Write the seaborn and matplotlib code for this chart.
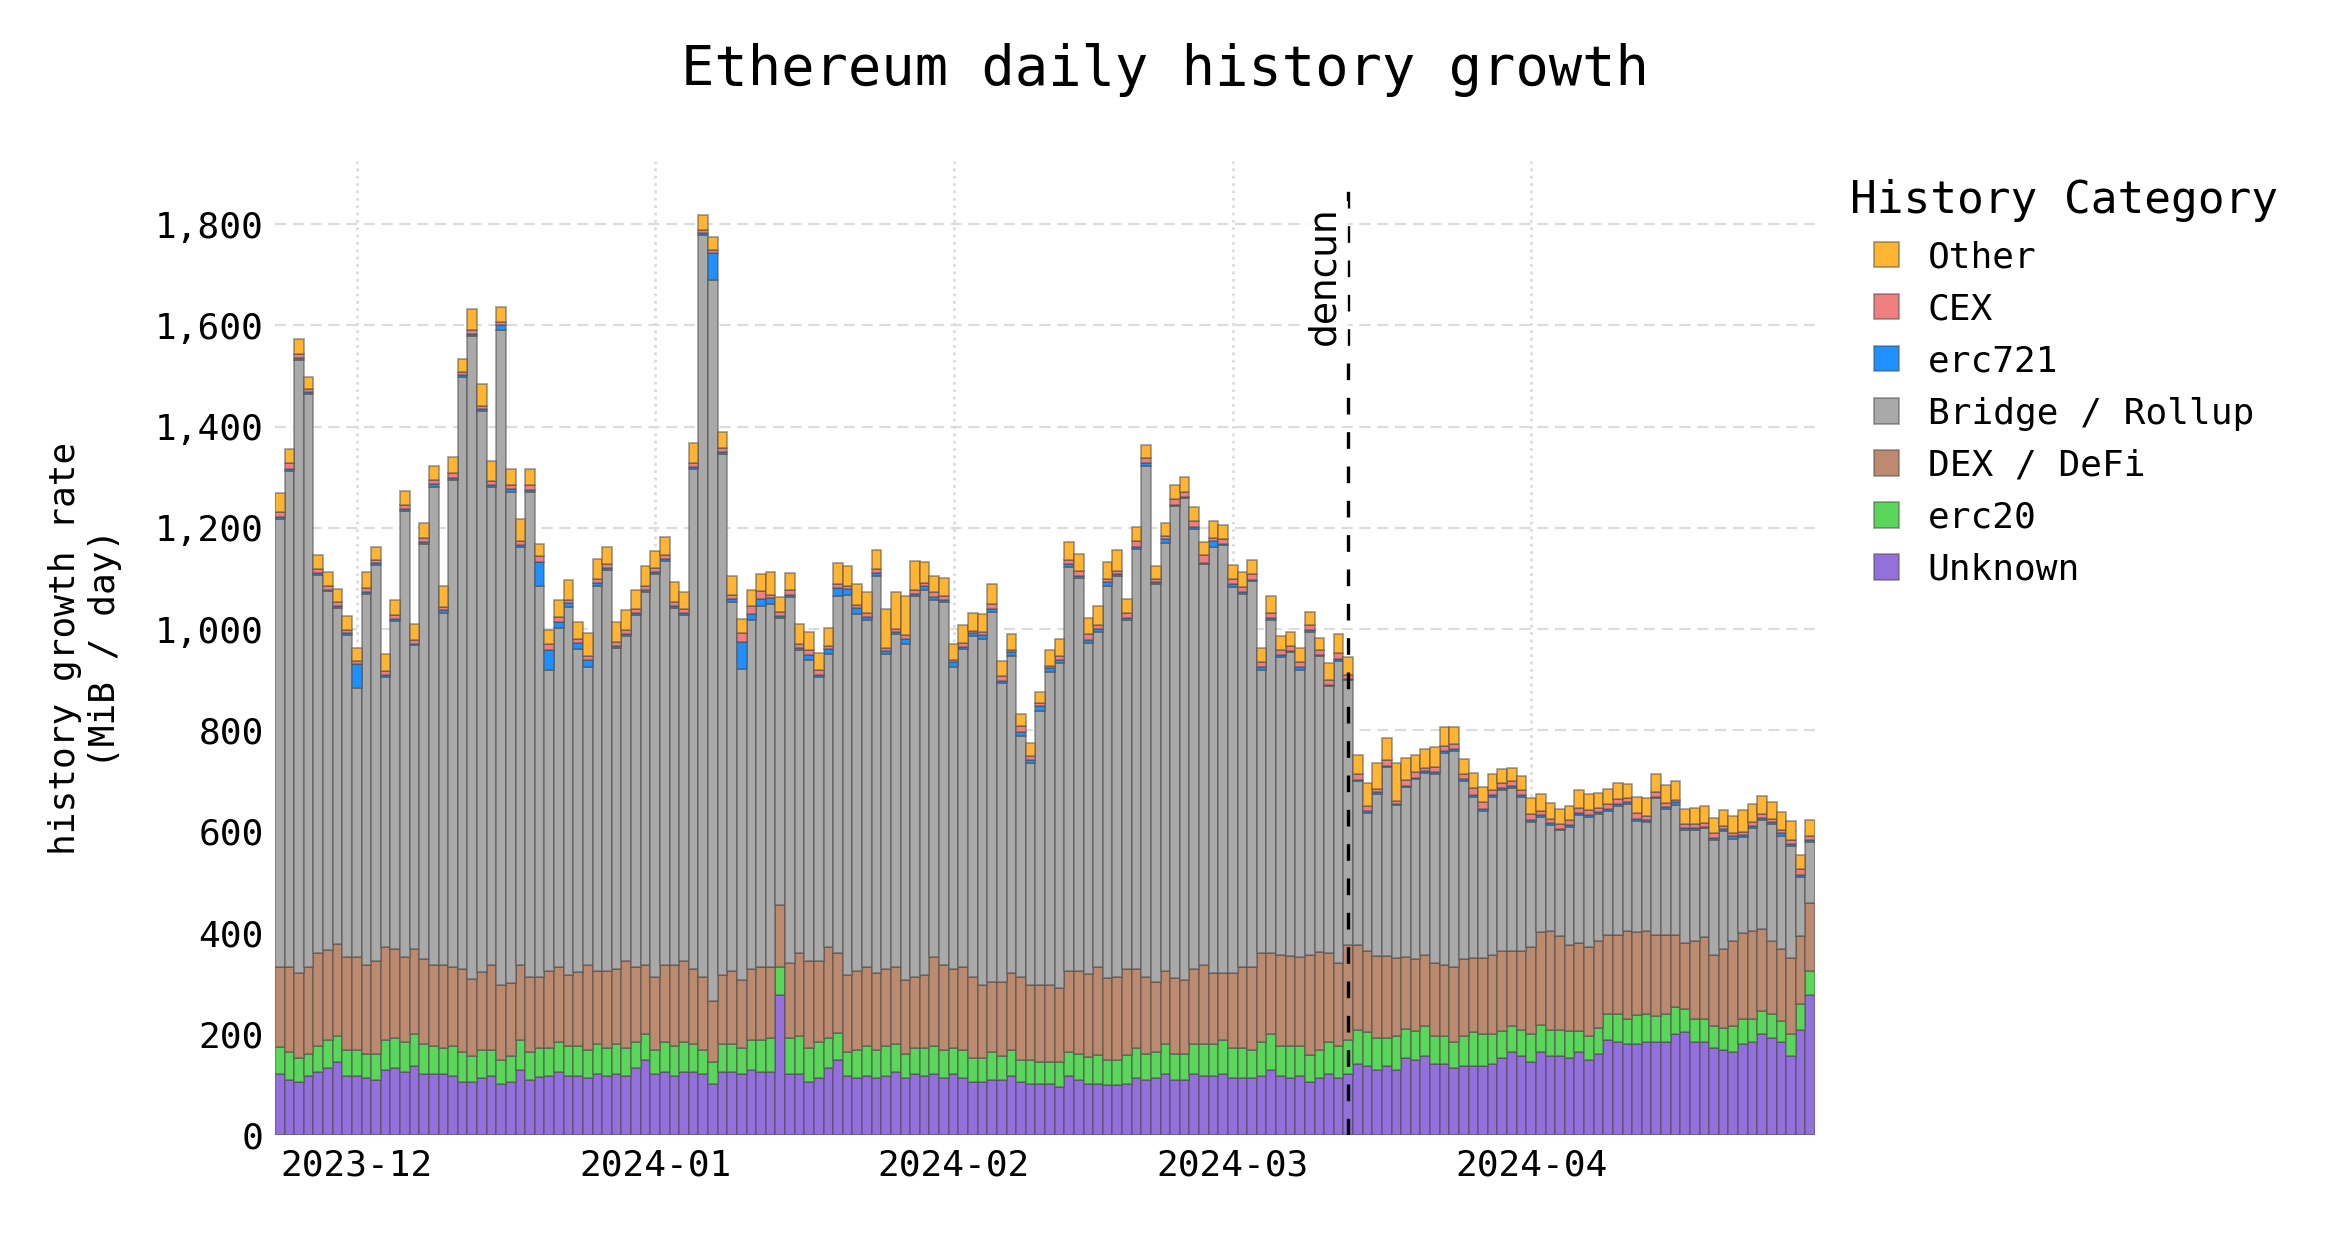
import numpy as np
import pandas as pd
import seaborn as sns
import matplotlib.pyplot as plt
import matplotlib.dates as mdates
import matplotlib.ticker as mticker

# one bar per day, values in MiB / day
dates = pd.date_range('2023-11-23', '2024-04-30', freq='D')

unknown = [121, 109, 105, 117, 125, 132, 145, 117, 117, 113,
           109, 129, 132, 125, 136, 121, 121, 121, 117, 105,
           105, 113, 117, 101, 105, 129, 109, 115, 116, 125,
           116, 116, 113, 121, 116, 121, 116, 132, 148, 121,
           125, 116, 125, 125, 121, 101, 125, 125, 121, 129,
           125, 125, 277, 121, 121, 105, 113, 132, 148, 116,
           113, 116, 113, 116, 125, 113, 121, 116, 121, 113,
           121, 113, 105, 105, 109, 109, 117, 105, 101, 101,
           101, 94, 117, 109, 101, 101, 98, 98, 101, 113,
           109, 113, 121, 109, 109, 121, 117, 117, 121, 113,
           113, 113, 117, 129, 117, 113, 117, 105, 113, 121,
           113, 121, 141, 136, 129, 136, 129, 152, 148, 156,
           141, 141, 132, 136, 136, 136, 141, 152, 164, 156,
           145, 164, 156, 156, 152, 164, 148, 160, 188, 183,
           179, 179, 183, 183, 183, 199, 203, 183, 183, 172,
           168, 164, 179, 183, 199, 192, 183, 156, 207, 277]

erc20 = [52, 56, 48, 43, 51, 56, 51, 51, 51, 48,
         52, 59, 59, 58, 63, 58, 54, 51, 58, 59,
         51, 56, 51, 47, 51, 59, 56, 57, 56, 58,
         59, 59, 56, 58, 56, 58, 56, 51, 51, 47,
         58, 59, 58, 54, 47, 43, 54, 54, 51, 59,
         63, 67, 56, 70, 74, 67, 70, 59, 54, 48,
         56, 59, 56, 59, 54, 47, 51, 56, 54, 56,
         51, 56, 47, 47, 56, 47, 51, 43, 47, 43,
         43, 51, 47, 51, 54, 58, 51, 51, 58, 59,
         51, 52, 58, 51, 51, 58, 62, 62, 67, 59,
         59, 56, 66, 70, 58, 63, 58, 54, 56, 62,
         63, 67, 66, 67, 63, 56, 67, 58, 58, 59,
         54, 54, 51, 59, 67, 63, 58, 54, 51, 51,
         54, 54, 51, 51, 54, 42, 47, 52, 51, 56,
         51, 59, 56, 52, 56, 54, 47, 47, 47, 43,
         43, 51, 51, 47, 47, 47, 43, 43, 52, 47]

dex_defi = [160, 168, 168, 172, 184, 177, 181, 184, 184, 176,
            183, 184, 177, 169, 169, 169, 161, 164, 157, 164,
            153, 153, 168, 148, 145, 148, 148, 141, 152, 150,
            141, 148, 168, 145, 152, 150, 172, 150, 137, 145,
            153, 161, 161, 150, 145, 121, 137, 145, 134, 141,
            145, 141, 121, 148, 164, 172, 161, 181, 157, 152,
            156, 157, 152, 153, 153, 146, 141, 145, 177, 168,
            157, 164, 161, 145, 137, 146, 152, 164, 148, 152,
            152, 145, 160, 164, 164, 173, 161, 164, 169, 157,
            153, 137, 145, 150, 146, 150, 157, 141, 132, 148,
            161, 164, 177, 161, 181, 177, 177, 197, 192, 177,
            164, 188, 169, 161, 161, 161, 153, 142, 142, 141,
            145, 141, 150, 153, 146, 150, 157, 157, 148, 157,
            173, 184, 197, 186, 169, 173, 177, 172, 157, 157,
            173, 164, 164, 161, 157, 142, 130, 153, 162, 141,
            157, 168, 169, 173, 161, 145, 142, 150, 134, 135]

bridge_rollup = [884, 980, 1211, 1133, 747, 710, 665, 636, 532, 732,
                 783, 533, 648, 882, 600, 820, 945, 696, 962, 1170,
                 1270, 1109, 945, 1295, 970, 827, 957, 772, 596, 669,
                 728, 638, 587, 762, 792, 634, 643, 694, 737, 796,
                 799, 705, 684, 987, 1466, 1425, 1030, 730, 615, 689,
                 712, 716, 568, 725, 599, 595, 562, 579, 707, 751,
                 705, 685, 783, 622, 658, 665, 752, 761, 705, 717,
                 596, 628, 673, 684, 731, 592, 627, 477, 440, 542,
                 620, 642, 799, 777, 654, 662, 775, 792, 690, 830,
                 1010, 787, 846, 934, 952, 868, 792, 842, 846, 764,
                 736, 761, 560, 658, 589, 602, 568, 639, 585, 527,
                 597, 523, 323, 273, 320, 374, 304, 335, 355, 360,
                 374, 419, 425, 352, 319, 292, 312, 318, 322, 304,
                 247, 226, 209, 210, 233, 254, 257, 250, 245, 254,
                 251, 219, 215, 270, 249, 258, 223, 219, 214, 228,
                 233, 203, 190, 203, 215, 230, 223, 223, 116, 121]

erc721 = [4, 4, 4, 3, 4, 3, 4, 4, 46, 4,
          3, 4, 3, 4, 3, 3, 5, 5, 5, 4,
          5, 3, 3, 10, 6, 4, 5, 47, 38, 11,
          7, 11, 15, 4, 4, 4, 4, 5, 4, 4,
          4, 4, 4, 4, 3, 54, 4, 5, 54, 11,
          14, 12, 4, 4, 5, 9, 4, 9, 16, 12,
          11, 7, 7, 6, 5, 10, 5, 7, 6, 3,
          9, 3, 6, 7, 6, 3, 7, 7, 6, 9,
          7, 7, 5, 3, 6, 7, 7, 4, 3, 3,
          6, 3, 7, 2, 3, 4, 3, 11, 2, 4,
          5, 3, 5, 3, 3, 2, 5, 3, 2, 2,
          3, 2, 3, 4, 4, 3, 2, 3, 3, 3,
          3, 3, 5, 4, 3, 3, 3, 4, 4, 3,
          4, 4, 3, 2, 4, 4, 4, 4, 4, 4,
          4, 4, 4, 3, 3, 5, 3, 4, 2, 3,
          4, 4, 4, 5, 5, 4, 5, 4, 4, 4]

cex = [11, 11, 8, 6, 7, 7, 7, 6, 7, 8,
       7, 9, 8, 7, 8, 9, 9, 7, 9, 6,
       6, 7, 9, 6, 8, 6, 9, 12, 12, 11,
       7, 8, 7, 9, 8, 8, 8, 8, 8, 8,
       8, 8, 8, 8, 7, 6, 7, 8, 17, 17,
       16, 7, 8, 10, 7, 11, 10, 6, 6, 6,
       7, 7, 7, 7, 6, 7, 7, 6, 10, 8,
       5, 8, 4, 6, 10, 11, 4, 12, 7, 6,
       4, 7, 9, 11, 12, 6, 6, 6, 11, 11,
       9, 7, 6, 10, 9, 12, 16, 7, 10, 11,
       10, 11, 10, 10, 11, 10, 10, 10, 11, 11,
       12, 9, 12, 10, 7, 11, 6, 11, 11, 7,
       11, 11, 9, 9, 15, 15, 11, 11, 11, 11,
       11, 9, 9, 10, 11, 9, 9, 9, 9, 10,
       8, 11, 9, 8, 9, 5, 8, 9, 9, 9,
       6, 6, 6, 7, 7, 7, 7, 7, 12, 7]

other = [37, 27, 30, 24, 29, 27, 27, 28, 25, 31,
         26, 33, 30, 27, 31, 29, 28, 41, 31, 26,
         42, 43, 39, 30, 32, 44, 32, 24, 28, 34,
         38, 34, 46, 40, 35, 39, 39, 38, 39, 34,
         35, 40, 34, 39, 30, 24, 32, 38, 27, 31,
         34, 44, 29, 33, 40, 36, 33, 37, 42, 39,
         41, 42, 38, 77, 72, 77, 58, 41, 31, 36,
         32, 35, 35, 36, 40, 28, 32, 24, 25, 23,
         32, 34, 34, 33, 30, 39, 34, 41, 28, 29,
         25, 26, 27, 29, 30, 29, 24, 33, 28, 28,
         28, 28, 27, 34, 28, 28, 28, 25, 24, 32,
         38, 34, 38, 44, 52, 43, 75, 45, 34, 37,
         39, 37, 34, 30, 30, 28, 31, 28, 25, 28,
         32, 33, 31, 29, 28, 36, 32, 28, 29, 31,
         28, 33, 35, 37, 34, 37, 30, 32, 34, 31,
         32, 35, 43, 36, 36, 34, 36, 37, 29, 32]

# legend order (top of stack first)
categories = ['Other', 'CEX', 'erc721', 'Bridge / Rollup', 'DEX / DeFi', 'erc20', 'Unknown']
colors = ['#FFB533', '#F08080', '#1E90FF', '#A9A9A9', '#BC8A6E', '#5AD75A', '#9370DB']

dencun_date = pd.Timestamp('2024-03-13')

# long format for seaborn
day = mdates.date2num(dates)
wide_df = pd.DataFrame({
    'day': day,
    'Other': other,
    'CEX': cex,
    'erc721': erc721,
    'Bridge / Rollup': bridge_rollup,
    'DEX / DeFi': dex_defi,
    'erc20': erc20,
    'Unknown': unknown,
})
long_df = wide_df.melt(id_vars='day', var_name='category', value_name='mib')

sns.set_style('whitegrid')
plt.rcParams['font.family'] = 'DejaVu Sans Mono'
plt.rcParams['text.color'] = 'black'
plt.rcParams['axes.labelcolor'] = 'black'

fig = plt.figure(figsize=(11.65, 6.22), dpi=200)
ax = fig.add_axes([0.118, 0.0876, 0.661, 0.783])

sns.histplot(data=long_df, x='day', weights='mib', hue='category',
             hue_order=categories, palette=dict(zip(categories, colors)),
             multiple='stack', discrete=True, shrink=1, alpha=1,
             edgecolor=(0.3, 0.3, 0.3, 0.55), linewidth=0.6, ax=ax)

# dencun upgrade marker
dencun_x = mdates.date2num(dencun_date)
ax.axvline(dencun_x, ymax=0.973, color='black', linestyle='--',
           linewidth=1.2, dashes=(5, 5.3))
ax.text(dencun_x - 0.6, 1835, 'dencun', rotation=90, ha='right', va='top',
        family='DejaVu Sans', fontsize=13.5,
        bbox=dict(facecolor='white', edgecolor='none', alpha=0.85, pad=2))

ax.set_xlim(day[0] - 0.5, day[-1] + 0.5)
ax.set_ylim(0, 1925)
ax.set_yticks(np.arange(0, 1801, 200))
ax.yaxis.set_major_formatter(mticker.StrMethodFormatter('{x:,.0f}'))
ax.xaxis.set_major_locator(mdates.MonthLocator())
ax.xaxis.set_major_formatter(mdates.DateFormatter('%Y-%m'))
ax.tick_params(length=0, labelsize=13, colors='black')
ax.tick_params(axis='y', pad=4)
ax.tick_params(axis='x', pad=5)

ax.grid(axis='y', linestyle=(0, (5, 3)), color='#dcdcdc', linewidth=0.8)
ax.grid(axis='x', linestyle=':', color='#dcdcdc', linewidth=1.0)
for spine in ax.spines.values():
    spine.set_visible(False)

ax.set_xlabel('')
ax.set_ylabel('history growth rate\n(MiB / day)', fontsize=13, labelpad=12)

sns.move_legend(ax, 'upper left', bbox_to_anchor=(0.780, 0.882),
                bbox_transform=fig.transFigure, title='History Category',
                frameon=False, fontsize=13, title_fontsize=16,
                labelspacing=0.5, handlelength=0.7, handleheight=0.7,
                handletextpad=0.8)

fig.suptitle('Ethereum daily history growth', fontsize=20, y=0.944, va='center')

fig.savefig('out.png', dpi=200)
